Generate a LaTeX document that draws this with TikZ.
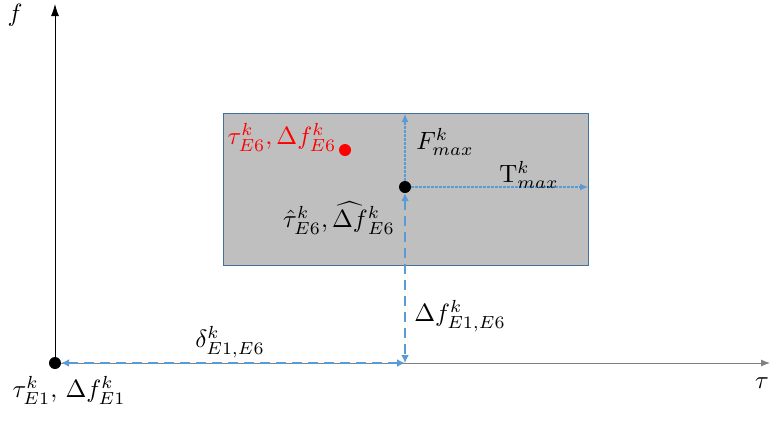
\documentclass[tikz,border=0pt]{standalone}
\usetikzlibrary{arrows.meta}
\definecolor{boxfill}{RGB}{191,191,191}
\definecolor{boxedge}{RGB}{65,113,156}
\definecolor{dimblue}{RGB}{91,155,213}
\definecolor{axisgray}{RGB}{128,128,128}
\newcommand{\mylbl}[1]{\scalebox{2.5}{$#1$}}
\tikzset{
  px/.style={x=1pt,y=-1pt},
  lbl/.style={inner sep=0pt},
  dotnode/.style={circle,fill=black,inner sep=0pt,minimum size=12pt},
  dimarrow/.style={draw=dimblue,line width=2.2pt,dash pattern=on 10pt off 6pt,{Latex[length=8pt,width=8pt]}-{Latex[length=8pt,width=8pt]}},
  thinarrow/.style={draw=dimblue,line width=1.1pt,dash pattern=on 2.5pt off 1.5pt,-{Latex[length=8pt,width=7pt]}},
}
\begin{document}
\begin{tikzpicture}[px]
\useasboundingbox (0,0) rectangle (770,421);
% box
\node[draw=boxedge,fill=boxfill,line width=1.4pt,minimum width=365pt,minimum height=152pt,inner sep=0pt,anchor=north west] (box) at (223,113) {};
% axes
\coordinate (origin) at (55,363);
\coordinate (ytop) at (55,4);
\coordinate (xend) at (770,363);
\draw[axisgray,line width=0.9pt,-{Latex[length=9pt,width=7pt]}] (origin) -- (xend);
\draw[black,line width=0.9pt,-{Latex[length=12pt,width=8pt]}] (origin) -- (ytop);
\node[lbl] (flab) at (15,15) {\mylbl{f}};
\node[lbl] (taulab) at (762,383) {\mylbl{\tau}};
% points
\node[dotnode] (e1) at (origin) {};
\node[dotnode] (e6) at (405,187) {};
\coordinate (foot) at (405,363);
\coordinate (ftop) at (405,114);
\coordinate (tright) at (588,187);
\node[circle,fill=red,inner sep=0pt,minimum size=12pt] (red) at (345,150) {};
% dimension arrows
\draw[dimarrow] (e1) -- (foot);
\draw[dimarrow] (e6) -- (foot);
\draw[thinarrow] (e6) -- (ftop);
\draw[thinarrow] (e6) -- (tright);
% labels
\node[lbl] (l1) at (69,390) {\mylbl{\tau^k_{E1},\,\Delta f^k_{E1}}};
\node[lbl] (ld) at (230,342) {\mylbl{\delta^k_{E1,E6}}};
\node[lbl] (ldf) at (460,316) {\mylbl{\Delta f^k_{E1,E6}}};
\node[lbl] (lF) at (445,142) {\mylbl{F^k_{max}}};
\node[lbl] (lT) at (529,175) {\mylbl{\mathrm{T}^k_{max}}};
\node[lbl] (lhat) at (339,218) {\mylbl{\hat\tau^k_{E6},\widehat{\Delta f}{}^k_{E6}}};
\node[lbl,text=red] (lred) at (282,137) {\mylbl{\tau^k_{E6},\Delta f^k_{E6}}};
\end{tikzpicture}
\end{document}
